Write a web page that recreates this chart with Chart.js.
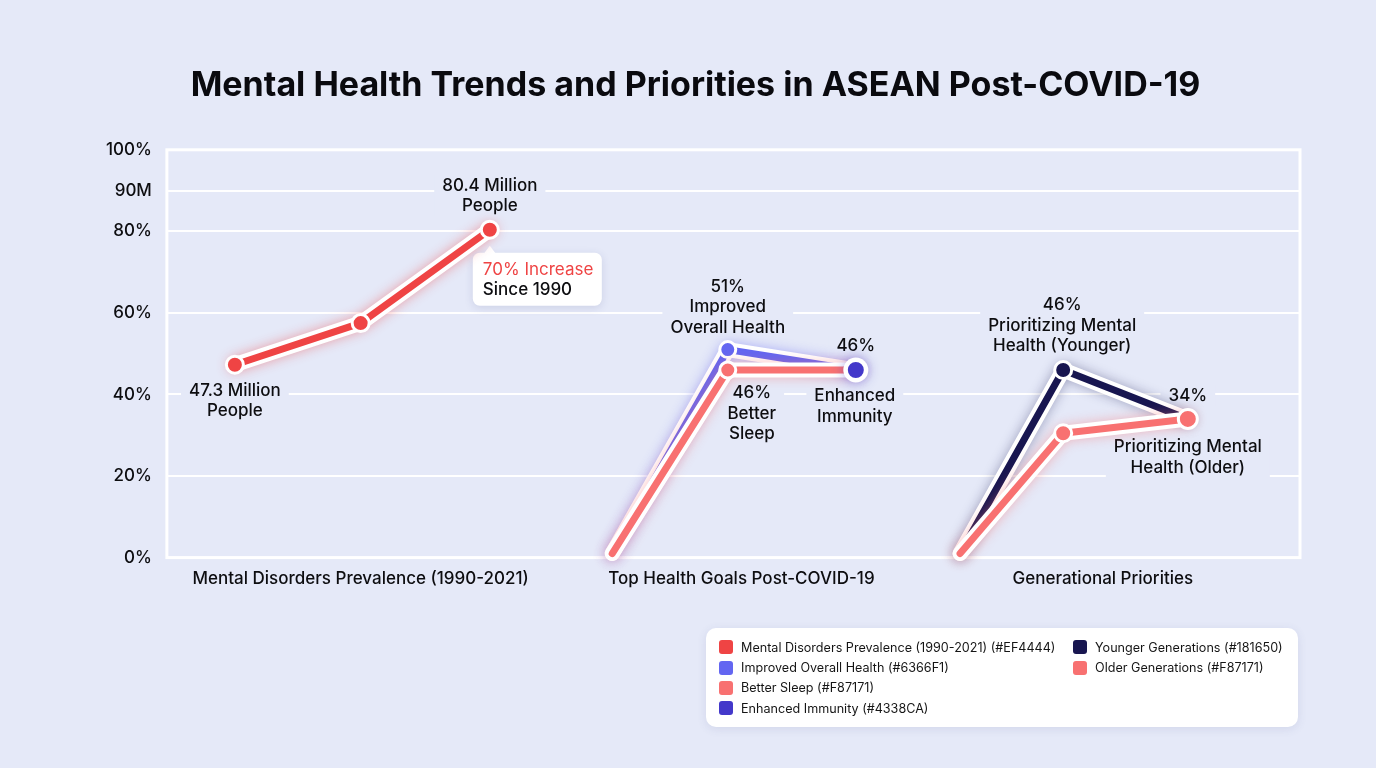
<!DOCTYPE html>
<html>
<head>
<meta charset="utf-8">
<title>Mental Health Trends and Priorities in ASEAN Post-COVID-19</title>
<script src="https://cdn.jsdelivr.net/npm/chart.js@4.4.1/dist/chart.umd.min.js"></script>
<style>
  body { margin: 0; background: #e5e9f8; font-family: Inter, "Noto Sans", sans-serif; }
  #wrap { position: relative; width: 1376px; height: 768px; background: #e5e9f8; }
  #legend {
    position: absolute; left: 706px; top: 628px; width: 566px; height: 81px;
    padding: 9px 13px; background: #fff; border-radius: 10px;
    box-shadow: 0 2px 10px rgba(70, 80, 140, 0.12);
    display: grid; grid-auto-flow: column; grid-template-columns: 354px auto;
    grid-template-rows: repeat(4, 20.4px);
  }
  .item { display: flex; align-items: center; font-size: 12.6px; color: #151515; white-space: nowrap; }
  .sw { width: 14px; height: 14px; border-radius: 3px; margin-right: 8px; flex: none; }
</style>
</head>
<body>
<div id="wrap">
  <canvas id="chart"></canvas>
  <div id="legend"></div>
</div>
<script>
// categories and tick labels
const groupLabels = ['Mental Disorders Prevalence (1990-2021)', 'Top Health Goals Post-COVID-19', 'Generational Priorities']
const groupTickX = [17.1, 50.7, 82.6]
const yTickValues = [0, 20, 40, 60, 80, 90, 100]
const yTickLabels = ['0%', '20%', '40%', '60%', '80%', '90M', '100%']

// series (x = place on the horizontal scale, 0-100)
const prevalenceX = [6.0, 17.1, 28.5]
const prevalenceValues = [47.3, 57.5, 80.4]
const goalsX = [39.3, 49.5, 60.8]
const improvedHealthValues = [1, 51, 46]
const betterSleepValues = [1, 46, 46]
const immunityX = [60.8]
const immunityValues = [46]
const generationsX = [70.0, 79.1, 90.1]
const youngerValues = [1, 46, 34]
const olderValues = [1, 30.5, 34]

const bgColor = '#e5e9f8'
const textColor = '#0d0d10'

function toPoints(xs, ys) {
  return xs.map((x, i) => ({ x, y: ys[i] }))
}

function lineSet(label, legendText, color, glow, points, radius, order) {
  return {
    label, legendText, glow, order,
    data: points,
    borderColor: color,
    backgroundColor: color,
    pointBackgroundColor: color,
    pointBorderColor: '#fff',
    pointBorderWidth: 3,
    pointRadius: radius,
    borderWidth: 7,
    borderCapStyle: 'round',
    borderJoinStyle: 'round',
    clip: false
  }
}

// notes drawn next to points: dataset, point, offsets, lines
const notes = [
  { ds: 0, pt: 2, dx: 0, dy: -44, lines: ['80.4 Million', 'People'] },
  { ds: 0, pt: 0, dx: 0, dy: 26, lines: ['47.3 Million', 'People'] },
  { ds: 1, pt: 1, dx: 0, dy: -63, lines: ['51%', 'Improved', 'Overall Health'] },
  { ds: 3, pt: 0, dx: 0, dy: -24, lines: ['46%'] },
  { ds: 2, pt: 1, dx: 24, dy: 23, lines: ['46%', 'Better', 'Sleep'] },
  { ds: 3, pt: 0, dx: -1, dy: 26, lines: ['Enhanced', 'Immunity'] },
  { ds: 4, pt: 1, dx: -1, dy: -65, lines: ['46%', 'Prioritizing Mental', 'Health (Younger)'] },
  { ds: 5, pt: 2, dx: 0, dy: -23, lines: ['34%'] },
  { ds: 5, pt: 2, dx: 0, dy: 28, lines: ['Prioritizing Mental', 'Health (Older)'] }
]

// white frame around the plot
const framePlugin = {
  id: 'frame',
  beforeDatasetsDraw(chart) {
    const { ctx, chartArea: a } = chart
    ctx.save()
    ctx.strokeStyle = '#fff'
    ctx.lineWidth = 3
    ctx.strokeRect(a.left, a.top, a.right - a.left, a.bottom - a.top)
    ctx.restore()
  }
}

// text notes + the "70% Increase" box
const notePlugin = {
  id: 'notes',
  beforeDatasetsDraw(chart) {
    const ctx = chart.ctx
    ctx.save()
    ctx.font = '500 17px Inter'
    ctx.textAlign = 'center'
    ctx.textBaseline = 'middle'
    notes.forEach(n => {
      const p = chart.getDatasetMeta(n.ds).data[n.pt]
      const cx = p.x + n.dx
      const top = p.y + n.dy
      const w = Math.max(...n.lines.map(l => ctx.measureText(l).width))
      ctx.fillStyle = bgColor
      ctx.fillRect(cx - w / 2 - 8, top - 11, w + 16, n.lines.length * 20 + 2)
      ctx.fillStyle = textColor
      n.lines.forEach((l, i) => ctx.fillText(l, cx, top + i * 20.5))
    })

    // callout box
    const p = chart.getDatasetMeta(0).data[2]
    const bx = p.x - 17, by = p.y + 23, bw = 129, bh = 53
    ctx.shadowColor = 'rgba(60,70,130,0.15)'
    ctx.shadowBlur = 8
    ctx.shadowOffsetY = 2
    ctx.fillStyle = '#fff'
    ctx.beginPath()
    ctx.roundRect(bx, by, bw, bh, 7)
    ctx.fill()
    ctx.shadowColor = 'transparent'
    ctx.beginPath()
    ctx.moveTo(p.x - 6, by + 1)
    ctx.lineTo(p.x, by - 7)
    ctx.lineTo(p.x + 6, by + 1)
    ctx.fill()
    ctx.textAlign = 'left'
    ctx.font = '400 17px Inter'
    ctx.fillStyle = '#EF4444'
    ctx.fillText('70% Increase', bx + 10, by + 17)
    ctx.font = '500 17px Inter'
    ctx.fillStyle = textColor
    ctx.fillText('Since 1990', bx + 10, by + 37)
    ctx.restore()
  }
}

// white outline with a soft coloured glow under each line
const glowPlugin = {
  id: 'glow',
  beforeDatasetDraw(chart, args) {
    const ds = chart.data.datasets[args.index]
    const pts = args.meta.data
    const ctx = chart.ctx
    ctx.save()
    ctx.shadowColor = ds.glow
    ctx.shadowBlur = 12
    ctx.strokeStyle = '#fff'
    ctx.fillStyle = '#fff'
    ctx.lineWidth = 15
    ctx.lineCap = 'round'
    ctx.lineJoin = 'round'
    ctx.beginPath()
    if (pts.length === 1) {
      ctx.arc(pts[0].x, pts[0].y, 12.5, 0, Math.PI * 2)
      ctx.fill()
    } else {
      pts.forEach((p, i) => i ? ctx.lineTo(p.x, p.y) : ctx.moveTo(p.x, p.y))
      ctx.stroke()
    }
    ctx.restore()
  }
}

const datasets = [
  lineSet('Mental Disorders Prevalence (1990-2021)', 'Mental Disorders Prevalence (1990-2021) (#EF4444)', '#EF4444', 'rgba(239,68,68,0.45)', toPoints(prevalenceX, prevalenceValues), 8.5, 1),
  lineSet('Improved Overall Health', 'Improved Overall Health (#6366F1)', '#6366F1', 'rgba(99,102,241,0.45)', toPoints(goalsX, improvedHealthValues), [0, 8, 8], 3),
  lineSet('Better Sleep', 'Better Sleep (#F87171)', '#F87171', 'rgba(248,113,113,0.45)', toPoints(goalsX, betterSleepValues), [0, 8, 8], 2),
  lineSet('Enhanced Immunity', 'Enhanced Immunity (#4338CA)', '#4338CA', 'rgba(67,56,202,0.45)', toPoints(immunityX, immunityValues), 9.5, 0),
  lineSet('Younger Generations', 'Younger Generations (#181650)', '#181650', 'rgba(24,22,80,0.35)', toPoints(generationsX, youngerValues), [0, 8.5, 8], 2),
  lineSet('Older Generations', 'Older Generations (#F87171)', '#F87171', 'rgba(248,113,113,0.45)', toPoints(generationsX, olderValues), [0, 8.5, 9.5], 1)
]

const tickFont = { family: 'Inter', size: 17, weight: '500' }

const chart = new Chart(document.getElementById('chart'), {
  type: 'line',
  data: { datasets },
  options: {
    responsive: true,
    maintainAspectRatio: false,
    animation: false,
    layout: { padding: { left: 91, right: 76, top: 0, bottom: 168 } },
    plugins: {
      legend: { display: false },
      tooltip: { enabled: false },
      title: {
        display: true,
        text: 'Mental Health Trends and Priorities in ASEAN Post-COVID-19',
        color: '#0a0a0f',
        font: { family: 'Inter', size: 34, weight: '700' },
        padding: { top: 65, bottom: 44 }
      }
    },
    scales: {
      x: {
        type: 'linear', min: 0, max: 100,
        grid: { display: false, drawTicks: false },
        border: { display: false },
        afterBuildTicks: s => { s.ticks = groupTickX.map(v => ({ value: v })) },
        ticks: {
          autoSkip: false, maxRotation: 0, padding: 11,
          color: textColor, font: tickFont,
          callback: (v, i) => groupLabels[i]
        }
      },
      y: {
        min: 0, max: 100,
        grid: { color: '#fff', lineWidth: 2, drawTicks: false },
        border: { display: false },
        afterBuildTicks: s => { s.ticks = yTickValues.map(v => ({ value: v })) },
        ticks: {
          padding: 15, color: textColor, font: tickFont,
          callback: (v, i) => yTickLabels[i]
        }
      }
    }
  },
  plugins: [framePlugin, notePlugin, glowPlugin]
})

// legend in two columns
const legend = document.getElementById('legend')
chart.data.datasets.forEach(ds => {
  const item = document.createElement('div')
  item.className = 'item'
  item.innerHTML = `<span class="sw" style="background:${ds.borderColor}"></span>${ds.legendText}`
  legend.appendChild(item)
})
</script>
</body>
</html>
